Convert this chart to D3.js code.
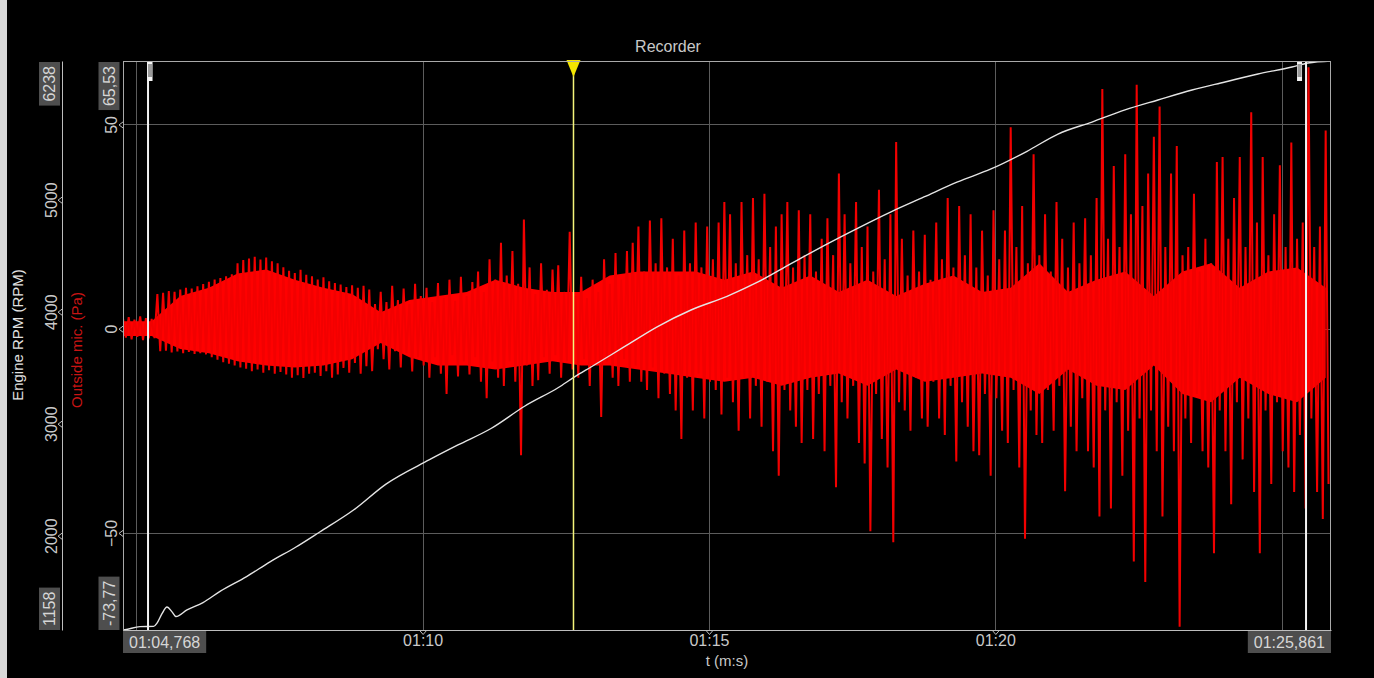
<!DOCTYPE html>
<html>
<head>
<meta charset="utf-8">
<script src="https://cdn.jsdelivr.net/npm/d3@7"></script>
<style>
  html, body { margin: 0; padding: 0; background: #000; }
  svg { display: block; }
  text { font-family: "Liberation Sans", Arial, sans-serif; }
</style>
</head>
<body>
<svg id="chart" width="1374" height="678"></svg>
<script>
// ---- Recorded data -------------------------------------------------------
const timeRange = [64.768, 85.861];          // seconds (01:04,768 .. 01:25,861)
const rpmRange = [1158, 6238];
const paRange = [-73.77, 65.53];

const timeTicks = [65, 70, 75, 80, 85];
const rpmTicks = [2000, 3000, 4000, 5000];
const paTicks = [-50, 0, 50];

// Engine RPM trace
const rpmTime = [64.768, 64.803, 65.065, 65.302, 65.362, 65.449, 65.536, 65.624, 65.693, 65.886,
  66.165, 66.462, 66.926, 67.335, 67.789, 68.203, 68.793, 69.360, 70.111, 70.617,
  71.194, 71.787, 72.364, 72.660, 72.940, 73.516, 74.103, 74.686, 75.315, 75.856,
  76.432, 77.026, 77.602, 78.178, 78.754, 79.341, 79.924, 80.553, 81.094, 81.688,
  82.264, 82.840, 83.434, 84.010, 84.586, 85.180, 85.459, 85.861];
const rpmValues = [1158, 1160, 1188, 1190, 1220, 1304, 1363, 1320, 1278, 1337,
  1403, 1503, 1635, 1767, 1899, 2033, 2229, 2461, 2676, 2810,
  2957, 3158, 3321, 3420, 3506, 3685, 3867, 4015, 4137, 4265,
  4429, 4595, 4747, 4892, 5024, 5158, 5274, 5432, 5586, 5693,
  5801, 5890, 5979, 6051, 6122, 6184, 6220, 6238];

// Outside microphone: per-0.1 s peak values (Pa)
const micStep = 0.1;
const micHigh = [2.5, 2.8, 2.2, 3.0, 2.6, 2.4, 8.5, 8.8, 9.2, 9.0,
  9.6, 10.0, 9.8, 10.4, 10.9, 11.5, 12.0, 12.4, 12.8, 13.3,
  16.0, 16.8, 17.2, 17.6, 16.9, 17.4, 16.5, 16.0, 15.0, 14.2,
  13.6, 14.4, 13.2, 12.8, 12.0, 12.6, 11.6, 11.2, 10.8, 10.2,
  10.6, 10.0, 10.5, 9.6, 6.0, 9.0, 6.5, 10.5, 7.0, 9.8,
  6.0, 11.0, 8.0, 10.0, 6.5, 11.2, 7.5, 12.0, 6.8, 12.7,
  8.0, 11.4, 14.0, 9.0, 17.0, 12.0, 21.0, 13.0, 19.0, 11.0,
  26.7, 15.0, 8.5, 16.0, 9.5, 14.5, 15.5, 9.0, 23.7, 8.0,
  12.7, 7.5, 12.0, 9.0, 17.0, 11.0, 18.5, 12.0, 19.0, 21.0,
  25.0, 14.0, 26.5, 16.0, 27.0, 15.0, 22.0, 13.0, 24.0, 16.0,
  26.0, 15.0, 25.0, 17.0, 26.0, 31.0, 28.0, 16.0, 31.0, 18.0,
  32.0, 17.0, 33.0, 20.0, 25.0, 28.0, 31.0, 15.0, 29.0, 18.0,
  28.0, 14.0, 22.0, 27.0, 18.0, 38.0, 28.0, 16.0, 31.0, 20.0,
  25.0, 14.0, 34.0, 17.0, 28.0, 45.7, 22.0, 13.0, 24.0, 14.0,
  23.0, 12.0, 26.0, 17.0, 32.0, 15.0, 30.0, 18.0, 28.0, 15.0,
  24.0, 13.0, 29.0, 17.0, 24.0, 49.3, 20.0, 30.0, 16.0, 42.7,
  18.0, 28.0, 14.0, 31.0, 22.0, 15.0, 26.0, 16.0, 27.0, 18.0,
  32.0, 58.7, 22.0, 39.8, 20.0, 42.7, 28.0, 59.7, 30.0, 38.0,
  47.0, 54.4, 20.0, 38.0, 44.7, 18.0, 20.0, 33.0, 14.0, 22.0,
  16.0, 40.8, 42.0, 22.0, 32.0, 42.0, 20.0, 53.0, 26.0, 42.0,
  18.0, 28.0, 40.0, 20.0, 45.6, 22.0, 26.0, 64.0, 20.0, 25.0,
  48.5];
const micLow = [-2.2, -2.6, -2.0, -2.8, -2.4, -2.3, -5.5, -5.4, -5.8, -5.6,
  -6.0, -5.7, -6.2, -6.0, -6.3, -7.0, -7.6, -8.2, -8.6, -9.0,
  -9.5, -9.8, -10.4, -10.0, -10.8, -10.2, -11.0, -10.6, -11.2, -12.0,
  -11.4, -12.1, -11.0, -10.8, -11.6, -10.4, -12.0, -11.2, -9.6, -10.8,
  -8.4, -11.0, -9.2, -10.4, -5.0, -7.5, -10.0, -5.5, -9.5, -6.0,
  -10.5, -7.0, -9.0, -12.0, -7.0, -11.0, -16.0, -6.5, -11.7, -8.0,
  -11.2, -7.0, -13.0, -17.0, -8.0, -12.0, -14.0, -8.0, -13.0, -31.0,
  -9.0, -14.0, -12.6, -7.0, -11.0, -6.5, -12.0, -8.0, -10.0, -12.0,
  -7.5, -14.0, -8.0, -21.6, -8.0, -12.0, -14.0, -7.5, -13.0, -9.0,
  -13.0, -15.0, -9.5, -17.0, -11.0, -16.0, -20.0, -27.0, -12.0, -20.0,
  -11.0, -22.0, -13.0, -15.0, -21.0, -12.0, -18.0, -25.0, -12.0, -22.0,
  -14.0, -24.0, -13.0, -30.0, -36.0, -15.0, -20.0, -24.0, -28.0, -15.0,
  -27.0, -16.0, -30.0, -14.0, -38.8, -18.0, -22.0, -14.0, -28.0, -33.0,
  -49.6, -16.0, -27.0, -34.0, -52.3, -18.0, -20.0, -25.0, -12.0, -22.0,
  -24.0, -13.0, -22.0, -26.0, -14.0, -32.5, -18.0, -24.0, -30.0, -31.0,
  -16.0, -36.0, -17.0, -25.0, -28.0, -15.0, -34.0, -51.4, -20.0, -26.0,
  -28.0, -15.0, -25.0, -14.0, -39.8, -24.0, -30.0, -17.0, -30.0, -34.0,
  -46.0, -20.0, -44.0, -18.0, -36.0, -25.0, -57.0, -22.0, -62.0, -20.0,
  -30.0, -46.0, -24.0, -30.0, -73.0, -22.0, -28.0, -16.0, -30.0, -34.0,
  -55.0, -20.0, -30.0, -43.0, -18.0, -32.0, -22.0, -40.0, -55.0, -20.0,
  -38.0, -18.0, -30.0, -34.0, -40.0, -26.0, -44.0, -22.0, -40.0, -46.6,
  -38.0];

// Outside microphone: dense body of the signal, per 0.5 s (Pa)
const coreStep = 0.5;
const coreHigh = [1.8, 1.8, 8, 10, 13.5, 14.5, 12, 10, 8.5, 4,
  7, 8, 9, 12, 10, 9, 9, 13, 14, 14,
  14, 12, 14, 10, 13, 9, 12, 8, 11, 13,
  9, 10, 16, 9, 12, 14, 8, 14, 16, 10,
  14, 15, 10];
const coreLow = [-1.8, -1.8, -5, -6, -8, -9, -9.5, -9, -7.5, -3.5,
  -7, -9, -9, -10, -9, -8, -9, -9, -10, -11,
  -12, -13, -12, -14, -12, -11, -14, -10, -13, -12,
  -11, -12, -16, -10, -14, -15, -9, -16, -18, -12,
  -16, -18, -12];

// Section markers and the cursor (seconds)
const markerTimes = [65.205, 85.425];
const cursorTime = 72.634;

// ---- Layout ---------------------------------------------------------------
const plot = { left: 123, right: 1331, top: 61, bottom: 630 };
const rpmAxisX = 62;
const textColor = "#c9c9c9";
const gridColor = "#5c5c5c";
const boxColor = "#4e4e4e";
const fontSize = 16;

const svg = d3.select("#chart");

const x = d3.scaleLinear().domain(timeRange).range([plot.left, plot.right]);
const yRpm = d3.scaleLinear().domain(rpmRange).range([plot.bottom, plot.top]);
const yPa = d3.scaleLinear().domain(paRange).range([plot.bottom, plot.top]);

const pad2 = n => String(n).padStart(2, "0");
const fmtTick = t => { const m = Math.floor(t / 60); return pad2(m) + ":" + pad2(Math.round(t - m * 60)); };
const fmtTime = t => {
  const m = Math.floor(t / 60);
  const s = t - m * 60;
  const whole = Math.floor(s + 1e-9);
  const ms = Math.round((s - whole) * 1000);
  return pad2(m) + ":" + pad2(whole) + "," + String(ms).padStart(3, "0");
};
const fmtNum = v => v.toFixed(2).replace(".", ",");

// window frame strip on the left
svg.append("rect").attr("x", 0).attr("y", 0).attr("width", 7).attr("height", 678).attr("fill", "#d8d8d8");

// title
svg.append("text").attr("x", 668).attr("y", 46).attr("dy", "0.35em")
  .attr("text-anchor", "middle").attr("fill", textColor).attr("font-size", fontSize)
  .text("Recorder");

// ---- grid ----
const grid = svg.append("g").attr("shape-rendering", "crispEdges");
grid.selectAll("line.v").data(timeTicks).join("line").attr("class", "v")
  .attr("x1", d => Math.round(x(d)) + 0.5).attr("x2", d => Math.round(x(d)) + 0.5)
  .attr("y1", plot.top).attr("y2", plot.bottom)
  .attr("stroke", gridColor).attr("stroke-width", 1);
grid.selectAll("line.h").data(paTicks).join("line").attr("class", "h")
  .attr("x1", plot.left).attr("x2", plot.right)
  .attr("y1", d => Math.round(yPa(d)) + 0.5).attr("y2", d => Math.round(yPa(d)) + 0.5)
  .attr("stroke", gridColor).attr("stroke-width", 1);

// ---- traces ----
svg.append("clipPath").attr("id", "plotClip").append("rect")
  .attr("x", plot.left).attr("y", plot.top)
  .attr("width", plot.right - plot.left).attr("height", plot.bottom - plot.top);

const traces = svg.append("g").attr("clip-path", "url(#plotClip)");

const coreData = coreHigh.map((h, i) => ({ t: timeRange[0] + i * coreStep, hi: h, lo: coreLow[i] }));
traces.append("path").datum(coreData)
  .attr("fill", "#ff0000")
  .attr("d", d3.area().x(d => x(d.t)).y0(d => yPa(d.lo)).y1(d => yPa(d.hi)));

const micPoints = [];
micHigh.forEach((h, i) => {
  micPoints.push([timeRange[0] + i * micStep, h]);
  micPoints.push([timeRange[0] + (i + 0.5) * micStep, micLow[i]]);
});
traces.append("path").datum(micPoints)
  .attr("fill", "none").attr("stroke", "#f20000").attr("stroke-width", 2)
  .attr("stroke-linejoin", "miter")
  .attr("d", d3.line().x(d => x(d[0])).y(d => yPa(d[1])));

const rpmData = rpmTime.map((t, i) => [t, rpmValues[i]]);
traces.append("path").datum(rpmData)
  .attr("fill", "none").attr("stroke", "#e4e4e4").attr("stroke-width", 1.4)
  .attr("d", d3.line().x(d => x(d[0])).y(d => yRpm(d[1])).curve(d3.curveMonotoneX));

// ---- section markers ----
markerTimes.forEach((t, i) => {
  const mx = x(t);
  svg.append("line").attr("x1", mx).attr("x2", mx).attr("y1", plot.top).attr("y2", plot.bottom)
    .attr("stroke", "#f2f2f2").attr("stroke-width", 2);
  const hx = i === 0 ? mx - 0.5 : mx - 9;
  svg.append("rect").attr("x", hx).attr("y", plot.top).attr("width", 5).attr("height", 20).attr("fill", "#f4f4f4");
  svg.append("rect").attr("x", hx + 0.5).attr("y", plot.top + 3).attr("width", 4).attr("height", 13).attr("fill", "#9a9a9a");
});

// ---- cursor ----
const cx = x(cursorTime);
svg.append("line").attr("x1", cx).attr("x2", cx).attr("y1", plot.top).attr("y2", plot.bottom)
  .attr("stroke", "#f4f47a").attr("stroke-width", 1.5);
svg.append("path")
  .attr("d", d3.line()([[cx - 7, plot.top - 1], [cx + 7, plot.top - 1], [cx, plot.top + 16]]) + "Z")
  .attr("fill", "#f3e600");

// ---- plot frame ----
svg.append("rect").attr("x", plot.left + 0.5).attr("y", plot.top + 0.5)
  .attr("width", plot.right - plot.left - 1).attr("height", plot.bottom - plot.top)
  .attr("fill", "none").attr("stroke", "#a9a9a9").attr("stroke-width", 1)
  .attr("shape-rendering", "crispEdges");

// ---- x axis ----
const xAxisG = svg.append("g").attr("transform", `translate(0,${plot.bottom})`)
  .call(d3.axisBottom(x).tickValues(timeTicks).tickSize(0).tickPadding(5).tickFormat(fmtTick));
xAxisG.select(".domain").attr("stroke", "#bdbdbd").attr("stroke-width", 1.2);
xAxisG.selectAll("text").attr("fill", textColor).attr("font-size", fontSize).attr("font-family", null);
xAxisG.selectAll(".tick").append("path").attr("d", "M-3,1L0,4.5L3,1")
  .attr("fill", "none").attr("stroke", "#bdbdbd");

// start / end time boxes
function hBox(t, anchorLeft) {
  const g = svg.append("g");
  const txt = g.append("text").attr("font-size", fontSize).attr("fill", "#d6d6d6")
    .attr("dy", "0.35em").attr("text-anchor", "middle").text(fmtTime(t));
  const w = txt.node().getComputedTextLength() + 12;
  const left = anchorLeft ? x(t) : x(t) - w;
  g.insert("rect", "text").attr("x", left).attr("y", plot.bottom + 1).attr("width", w).attr("height", 22).attr("fill", boxColor);
  txt.attr("x", left + w / 2).attr("y", plot.bottom + 12);
  return [left, left + w];
}
const startBox = hBox(timeRange[0], true);
const endBox = hBox(timeRange[1], false);
xAxisG.selectAll(".tick text").style("display", d => (x(d) - 24 < startBox[1] || x(d) + 24 > endBox[0]) ? "none" : null);

svg.append("text").attr("x", (plot.left + plot.right) / 2).attr("y", 661).attr("dy", "0.35em")
  .attr("text-anchor", "middle").attr("fill", textColor).attr("font-size", fontSize - 1)
  .text("t (m:s)");

// ---- vertical axes ----
function vAxis(scale, ticks, axisX, labelOffset) {
  const g = svg.append("g").attr("transform", `translate(${axisX},0)`)
    .call(d3.axisLeft(scale).tickValues(ticks).tickSize(0).tickFormat(d3.format("d")));
  g.select(".domain").attr("stroke", "#bdbdbd").attr("stroke-width", 1);
  g.selectAll(".tick text")
    .attr("x", null).attr("dy", "0.35em").attr("text-anchor", "middle")
    .attr("transform", `translate(${-labelOffset},0) rotate(-90)`)
    .attr("fill", textColor).attr("font-size", fontSize).attr("font-family", null);
  g.selectAll(".tick").append("path").attr("d", "M0,-3L-4,0L0,3")
    .attr("fill", "none").attr("stroke", "#bdbdbd");
  return g;
}
const rpmAxis = vAxis(yRpm, rpmTicks, rpmAxisX, 11);
const paAxis = vAxis(yPa, paTicks, plot.left, 12);
paAxis.select(".domain").remove();

// range boxes on the vertical axes
function vBox(label, cxBox, yEdge, atTop) {
  const g = svg.append("g");
  const txt = g.append("text").attr("font-size", fontSize).attr("fill", "#d6d6d6")
    .attr("dy", "0.35em").attr("text-anchor", "middle").text(label);
  const len = txt.node().getComputedTextLength() + 8;
  const cy = atTop ? yEdge + len / 2 : yEdge - len / 2;
  g.attr("transform", `translate(${cxBox},${cy}) rotate(-90)`);
  g.insert("rect", "text").attr("x", -len / 2).attr("y", -10.5).attr("width", len).attr("height", 21).attr("fill", boxColor);
}
vBox(String(rpmRange[1]), 49.5, plot.top + 1, true);
vBox(String(rpmRange[0]), 49.5, plot.bottom, false);
vBox(fmtNum(paRange[1]), 109, plot.top + 1, true);
vBox(fmtNum(paRange[0]), 109, plot.bottom, false);

// axis titles
svg.append("text").attr("transform", "translate(18,335) rotate(-90)").attr("dy", "0.35em")
  .attr("text-anchor", "middle").attr("fill", "#e2e2e2").attr("font-size", fontSize - 1)
  .text("Engine RPM (RPM)");
svg.append("text").attr("transform", "translate(77,350) rotate(-90)").attr("dy", "0.35em")
  .attr("text-anchor", "middle").attr("fill", "#c81414").attr("font-size", fontSize - 1)
  .text("Outside mic. (Pa)");
</script>
</body>
</html>
